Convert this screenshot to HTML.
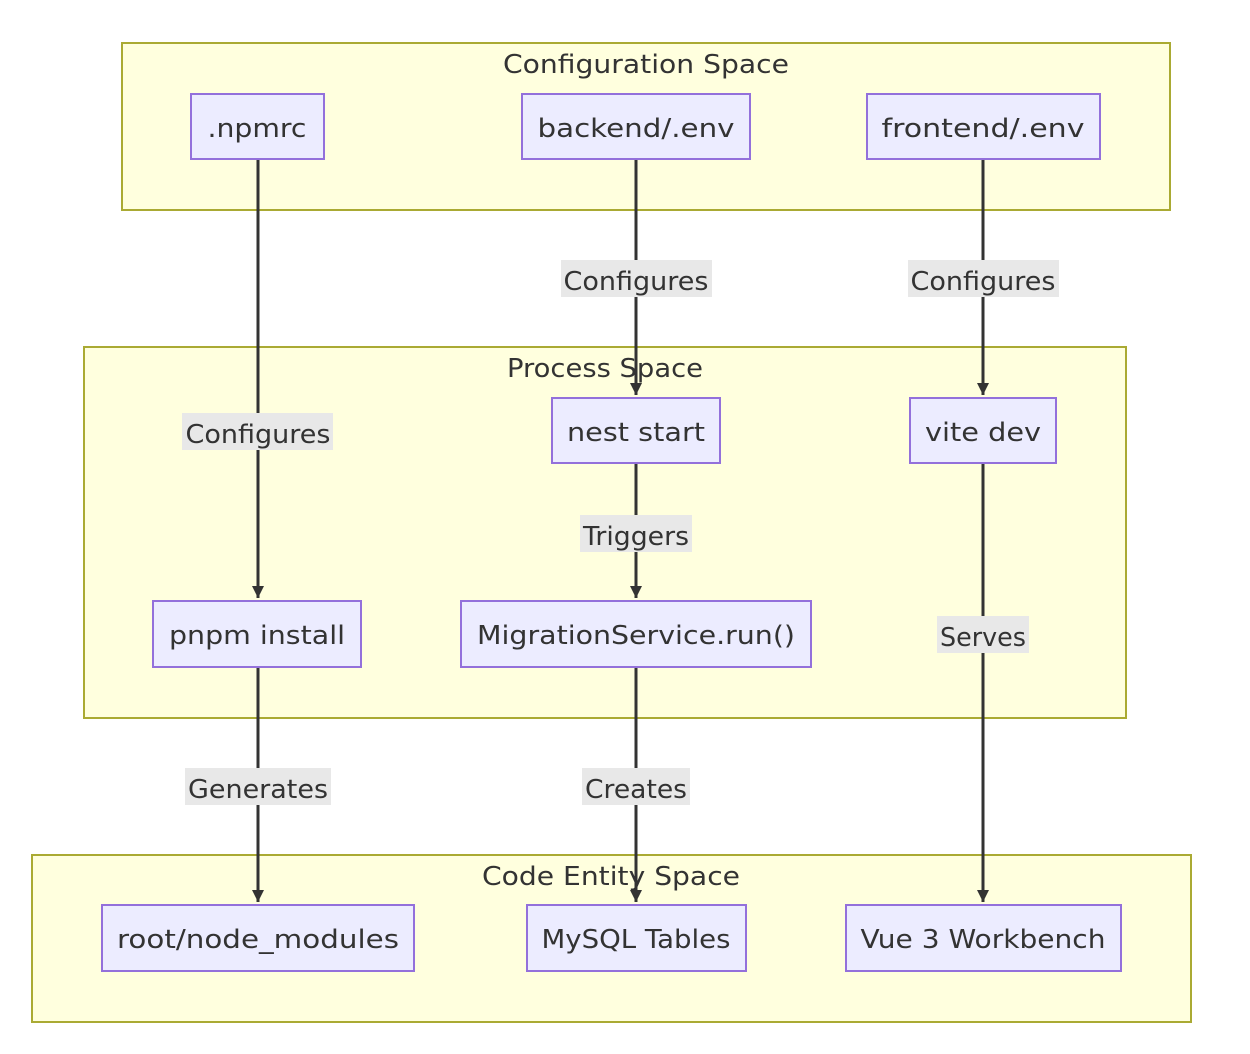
<!DOCTYPE html>
<html><head><meta charset="utf-8"><style>
html,body{margin:0;padding:0;background:#fff;}
svg{display:block;}
text{font-family:"DejaVu Sans","Liberation Sans",sans-serif;fill:#333;font-size:26px;}
</style></head><body>
<svg width="1250" height="1054" viewBox="0 0 1250 1054" xmlns="http://www.w3.org/2000/svg">
<defs>
<marker id="b" viewBox="0 0 12 12" refX="12" refY="6" markerWidth="12" markerHeight="12" markerUnits="userSpaceOnUse" orient="auto"><path d="M0,0L12,6L0,12z" fill="#333"/></marker></defs>
<g fill="#ffffde" stroke="#aaaa33" stroke-width="2">
<rect x="122" y="43" width="1048" height="167"/>
<rect x="84" y="347" width="1042" height="371"/>
<rect x="32" y="855" width="1159" height="167"/>
</g>
<g text-anchor="middle">
<text x="646" y="73" textLength="286" lengthAdjust="spacingAndGlyphs">Configuration Space</text>
<text x="605" y="377" textLength="196" lengthAdjust="spacingAndGlyphs">Process Space</text>
<text x="611" y="885" textLength="258" lengthAdjust="spacingAndGlyphs">Code Entity Space</text>
</g>
<g stroke="#333" stroke-width="3" fill="none">
<path d="M258 159V598" marker-end="url(#b)"/>
<path d="M636 159V395" marker-end="url(#b)"/>
<path d="M983 159V395" marker-end="url(#b)"/>
<path d="M636 463V598" marker-end="url(#b)"/>
<path d="M258 667V902" marker-end="url(#b)"/>
<path d="M636 667V902" marker-end="url(#b)"/>
<path d="M983 463V902" marker-end="url(#b)"/>
</g>
<g fill="#e8e8e8">
<rect x="561" y="260" width="151" height="37"/>
<rect x="908" y="260" width="151" height="37"/>
<rect x="182" y="413" width="151" height="37"/>
<rect x="580" y="515" width="112" height="37"/>
<rect x="937" y="616" width="92" height="37"/>
<rect x="185" y="768" width="146" height="37"/>
<rect x="582" y="768" width="108" height="37"/>
</g>
<g text-anchor="middle">
<text x="636" y="290" textLength="145" lengthAdjust="spacingAndGlyphs">Configures</text>
<text x="983" y="290" textLength="145" lengthAdjust="spacingAndGlyphs">Configures</text>
<text x="258" y="443" textLength="145" lengthAdjust="spacingAndGlyphs">Configures</text>
<text x="636" y="545" textLength="106" lengthAdjust="spacingAndGlyphs">Triggers</text>
<text x="983" y="646" textLength="86" lengthAdjust="spacingAndGlyphs">Serves</text>
<text x="258" y="798" textLength="140" lengthAdjust="spacingAndGlyphs">Generates</text>
<text x="636" y="798" textLength="102" lengthAdjust="spacingAndGlyphs">Creates</text>
</g>
<g fill="#ececff" stroke="#9370db" stroke-width="2">
<rect x="191" y="94" width="133" height="65"/>
<rect x="522" y="94" width="228" height="65"/>
<rect x="867" y="94" width="233" height="65"/>
<rect x="552" y="398" width="168" height="65"/>
<rect x="910" y="398" width="146" height="65"/>
<rect x="153" y="601" width="208" height="66"/>
<rect x="461" y="601" width="350" height="66"/>
<rect x="102" y="905" width="312" height="66"/>
<rect x="527" y="905" width="219" height="66"/>
<rect x="846" y="905" width="275" height="66"/>
</g>
<g text-anchor="middle">
<text x="257" y="137" textLength="99" lengthAdjust="spacingAndGlyphs">.npmrc</text>
<text x="636" y="137" textLength="197" lengthAdjust="spacingAndGlyphs">backend/.env</text>
<text x="983" y="137" textLength="203" lengthAdjust="spacingAndGlyphs">frontend/.env</text>
<text x="636" y="441" textLength="138" lengthAdjust="spacingAndGlyphs">nest start</text>
<text x="983" y="441" textLength="116" lengthAdjust="spacingAndGlyphs">vite dev</text>
<text x="257" y="644" textLength="176" lengthAdjust="spacingAndGlyphs">pnpm install</text>
<text x="636" y="644" textLength="318" lengthAdjust="spacingAndGlyphs">MigrationService.run()</text>
<text x="258" y="948" textLength="282" lengthAdjust="spacingAndGlyphs">root/node_modules</text>
<text x="636" y="948" textLength="189" lengthAdjust="spacingAndGlyphs">MySQL Tables</text>
<text x="983" y="948" textLength="245" lengthAdjust="spacingAndGlyphs">Vue 3 Workbench</text>
</g>
</svg>
</body></html>
